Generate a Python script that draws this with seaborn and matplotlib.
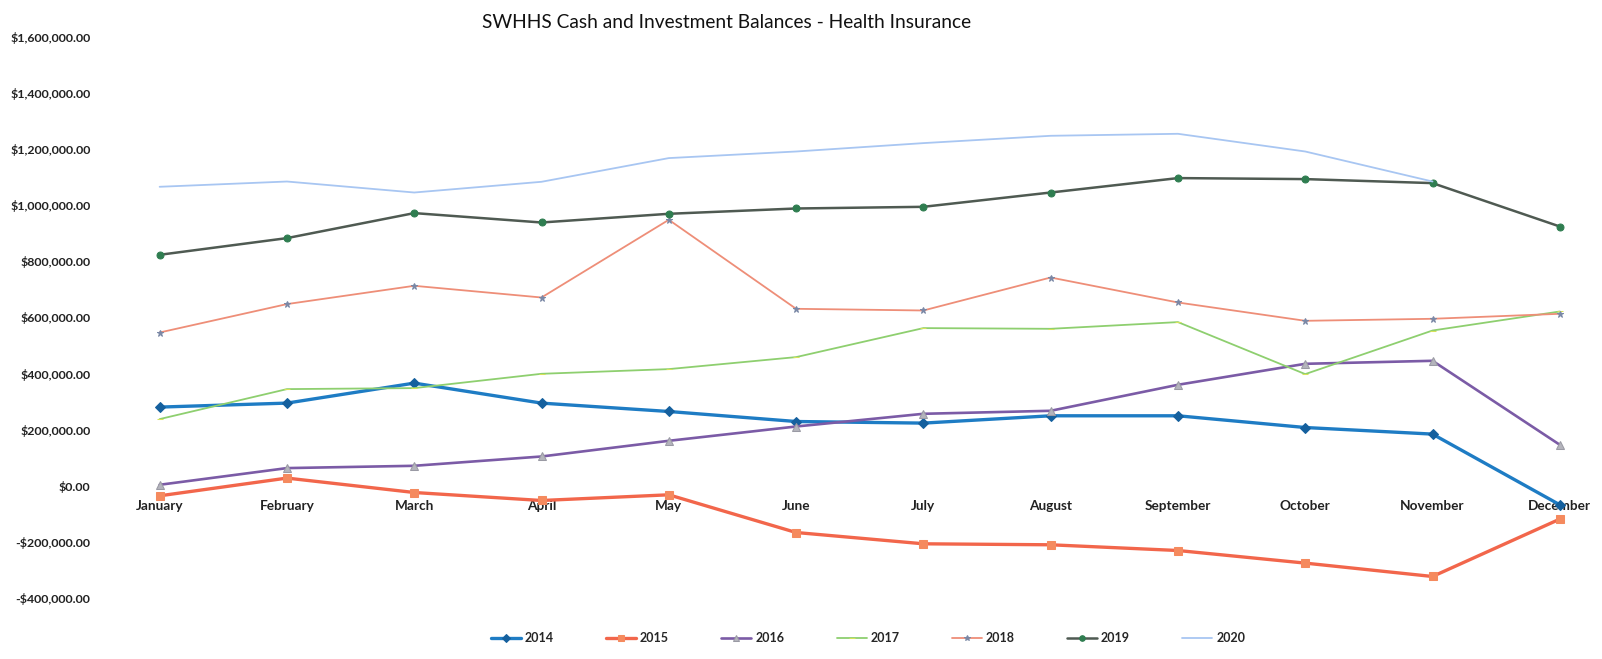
import matplotlib
matplotlib.use("Agg")
import matplotlib.pyplot as plt
import matplotlib.ticker as mticker
import numpy as np
import pandas as pd
import seaborn as sns

months = ["January", "February", "March", "April", "May", "June", "July",
          "August", "September", "October", "November", "December"]
years = ["2014", "2015", "2016", "2017", "2018", "2019", "2020"]

v2014 = [280600, 294800, 366100, 294800, 264900, 229200, 223500, 249600, 249600, 207800, 184300, -67700]
v2015 = [-35700, 27500, -23900, -52400, -32100, -166500, -206800, -210300, -230700, -275600, -323300, -118700]
v2016 = [3600, 63100, 71300, 104500, 160400, 211400, 256700, 267400, 360100, 434900, 445600, 146200]
v2017 = [237800, 344700, 348300, 399300, 416000, 458800, 562200, 559700, 583600, 398200, 553600, 621400]
v2018 = [546500, 647800, 713000, 671300, 948300, 631000, 625000, 742600, 653500, 588200, 595400, 613200]
v2019 = [823500, 883000, 972200, 938700, 969700, 988600, 994600, 1045600, 1097000, 1093400, 1079100, 924400]
v2020 = [1066000, 1084800, 1045600, 1083800, 1168300, 1191800, 1221700, 1247800, 1254900, 1191800, 1084800, np.nan]

title = "SWHHS Cash and Investment Balances - Health Insurance"

series = {"2014": v2014, "2015": v2015, "2016": v2016, "2017": v2017,
          "2018": v2018, "2019": v2019, "2020": v2020}

styles = {
    "2014": dict(color="#1E7CC4", lw=2.4, marker="D", ms=5, mfc="#15609E", mec="#15609E"),
    "2015": dict(color="#F2664B", lw=2.4, marker="s", ms=6, mfc="#F58A5E", mec="#F58A5E"),
    "2016": dict(color="#7B5BA6", lw=1.9, marker="^", ms=6, mfc="#B4B4BC", mec="#9A9AA4"),
    "2017": dict(color="#8ECF6F", lw=1.3, marker="_", ms=5, mfc="#D6E25A", mec="#D6E25A"),
    "2018": dict(color="#EE8E78", lw=1.3, marker="*", ms=5, mfc="#7A88A6", mec="#7A88A6"),
    "2019": dict(color="#4F5A52", lw=1.8, marker="o", ms=5, mfc="#2F7D50", mec="#2F7D50"),
    "2020": dict(color="#A8C6F2", lw=1.3, marker=None, ms=0, mfc="none", mec="none"),
}

sns.set_theme(style="white")
plt.rcParams["font.family"] = ["Lato", "DejaVu Sans"]

W, H = 1602, 659
fig = plt.figure(figsize=(W / 100, H / 100), dpi=100)
ax = fig.add_axes([96 / W, 1 - 598 / H, (1598 - 96) / W, (598 - 37) / H])

x = np.arange(len(months))
for yr in years:
    st = styles[yr]
    df = pd.DataFrame({"x": x, "v": series[yr]})
    sns.lineplot(data=df, x="x", y="v", ax=ax, color=st["color"], linewidth=st["lw"],
                 marker=st["marker"], markersize=st["ms"], markerfacecolor=st["mfc"],
                 markeredgecolor=st["mec"], label=yr)

ax.set_ylim(-400000, 1600000)
ax.set_xlim(-0.5, 11.3)
ax.set_yticks(np.arange(-400000, 1600001, 200000))

def money(v, pos):
    s = "${:,.2f}".format(abs(v))
    return "-" + s if v < 0 else s

ax.yaxis.set_major_formatter(mticker.FuncFormatter(money))
ax.set_xticks(x)
ax.set_xticklabels(months)
for sp in ["top", "right", "left"]:
    ax.spines[sp].set_visible(False)
ax.spines["bottom"].set_position(("data", 0))
ax.spines["bottom"].set_visible(False)
ax.tick_params(axis="x", length=0, pad=10, labelsize=9.8)
ax.tick_params(axis="y", length=0, pad=4, labelsize=8.9)
for lab in ax.get_xticklabels() + ax.get_yticklabels():
    lab.set_fontweight("bold")
    lab.set_color("#222222")
ax.set_xlabel("")
ax.set_ylabel("")
ax.grid(False)

fig.text(727 / W, 1 - 23 / H, title, ha="center", va="center", fontsize=13.8, color="#111111")

leg = ax.legend(loc="center", bbox_to_anchor=(868 / W, 1 - 638 / H), bbox_transform=fig.transFigure,
                ncol=7, frameon=False, fontsize=9, handlelength=2.4, handletextpad=0.3,
                columnspacing=4.2, markerscale=0.8)
for t in leg.get_texts():
    t.set_fontweight("bold")

fig.savefig("out.png", dpi=100)
